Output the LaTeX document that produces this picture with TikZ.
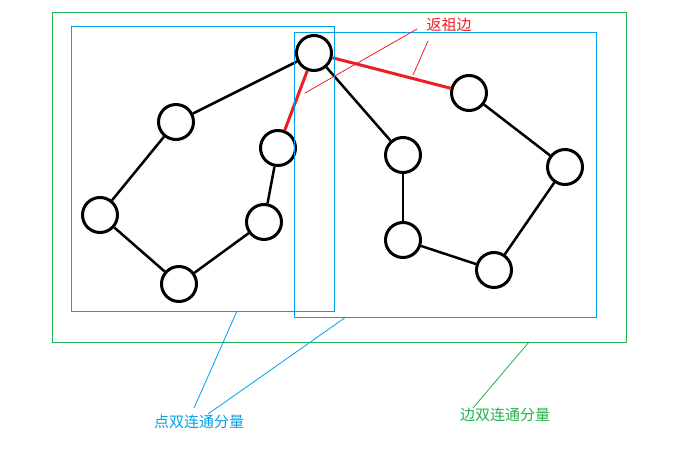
\documentclass[tikz,border=0pt]{standalone}
\usepackage{fontspec}
\newfontfamily\cjk{Noto Sans CJK SC}
\definecolor{backred}{RGB}{237,28,36}
\definecolor{vbcc}{RGB}{0,162,232}
\definecolor{ebcc}{RGB}{34,177,76}

\begin{document}
\begin{tikzpicture}[x=1pt, y=-1pt,
    vtx/.style={circle, draw, fill=white, line width=3pt, minimum size=35pt, inner sep=0pt},
    tree/.style={line width=2.5pt},
    backedge/.style={line width=3pt, draw=backred},
    note/.style={font=\cjk\fontsize{15}{17}\selectfont}]
    \useasboundingbox (0,0) rectangle (679,455);

    % Draw nodes
    \node[vtx] (r) at (314,53) {};
    \node[vtx] (a1) at (176,122) {};
    \node[vtx] (a2) at (100,215) {};
    \node[vtx] (a3) at (179,284) {};
    \node[vtx] (a4) at (264,222) {};
    \node[vtx] (a5) at (278,148) {};
    \node[vtx] (b1) at (403,155) {};
    \node[vtx] (b2) at (403,240) {};
    \node[vtx] (b3) at (494,270) {};
    \node[vtx] (b4) at (565,167) {};
    \node[vtx] (b5) at (469,93) {};

    % Draw connections
    \draw[tree] (r) -- (a1);
    \draw[tree] (a1) -- (a2);
    \draw[tree] (a2) -- (a3);
    \draw[tree] (a3) -- (a4);
    \draw[tree] (a4) -- (a5);
    \draw[backedge] (a5) -- (r);
    \draw[tree] (r) -- (b1);
    \draw[tree] (b1) -- (b2);
    \draw[tree] (b2) -- (b3);
    \draw[tree] (b3) -- (b4);
    \draw[tree] (b4) -- (b5);
    \draw[backedge] (r) -- (b5);

    % Components
    \draw[ebcc, line width=1pt] (52,12) rectangle (626,342);
    \draw[vbcc, line width=1pt] (71,26) rectangle (334,311);
    \draw[vbcc, line width=1pt] (294,32) rectangle (596,317);

    % Labels
    \node[note, text=backred] (lback) at (449,25) {返祖边};
    \node[note, text=vbcc] (lvbcc) at (199,422) {点双连通分量};
    \node[note, text=ebcc] (lebcc) at (505,415) {边双连通分量};

    \coordinate (p1) at (305,93);
    \coordinate (p2) at (413,75);
    \coordinate (q1) at (237,311);
    \coordinate (q2) at (346,317);
    \coordinate (s1) at (529,342);
    \coordinate (t1) at (417,29);
    \coordinate (t2) at (428,41);
    \coordinate (u1) at (194,408);
    \coordinate (u2) at (208,414);
    \coordinate (w1) at (473,408);

    \draw[backred, line width=0.8pt] (t1) -- (p1);
    \draw[backred, line width=0.8pt] (t2) -- (p2);
    \draw[vbcc, line width=0.8pt] (q1) -- (u1);
    \draw[vbcc, line width=0.8pt] (q2) -- (u2);
    \draw[ebcc, line width=0.8pt] (s1) -- (w1);
\end{tikzpicture}
\end{document}
